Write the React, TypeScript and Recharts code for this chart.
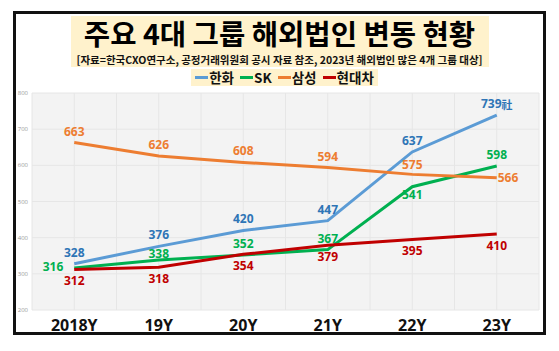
import React from 'react';
import { LineChart, Line, XAxis, YAxis, CartesianGrid, LabelList } from 'recharts';

const categories = ['2018Y', '19Y', '20Y', '21Y', '22Y', '23Y'];
const hanwha = [328, 376, 420, 447, 637, 739];
const sk = [316, 338, 352, 367, 541, 598];
const samsung = [663, 626, 608, 594, 575, 566];
const hyundai = [312, 318, 354, 379, 395, 410];
const seriesNames = ['한화', 'SK', '삼성', '현대차'];
const yTicks = [200, 300, 400, 500, 600, 700, 800];
const titleText = '주요 4대 그룹 해외법인 변동 현황';
const subtitleText = '[자료=한국CXO연구소, 공정거래위원회 공시 자료 참조, 2023년 해외법인 많은 4개 그룹 대상]';
const lastSuffix = '社';

const data = categories.map((c, i) => ({
  x: i,
  cat: c,
  hanwha: hanwha[i],
  sk: sk[i],
  samsung: samsung[i],
  hyundai: hyundai[i],
}));

const xTicks: number[] = [];
for (let i = -1; i <= 11; i++) xTicks.push(i / 2);

const lineColors = ['#5b9bd5', '#00b050', '#ed7d31', '#c00000'];
const labelColors = ['#2e75b6', '#00b050', '#ed7d31', '#c00000'];
const keys = ['hanwha', 'sk', 'samsung', 'hyundai'];

type P = [number, number, 'start' | 'middle' | 'end'];
const T: P = [0, -11.5, 'middle'];
const B: P = [0, 11, 'middle'];
const placements: P[][] = [
  [T, T, T, T, T, T],
  [[-11, -1.5, 'end'], [0, -7, 'middle'], T, T, [0, 8, 'middle'], T],
  [T, T, T, T, [0, -10, 'middle'], [1, -0.5, 'start']],
  [B, B, B, B, B, B],
];

const FONT = "'Open Sans', 'Noto Sans CJK KR', sans-serif";
const KFONT = "'Noto Sans CJK KR', 'Noto Sans', sans-serif";

const makeLabel = (si: number) => (props: any) => {
  const x = props.x ?? props.viewBox?.x;
  const y = props.y ?? props.viewBox?.y;
  const idx = props.index;
  const p = placements[si][idx] || T;
  const suffix = si === 0 && idx === categories.length - 1 ? lastSuffix : '';
  return (
    <text
      x={x + p[0]}
      y={y + p[1]}
      textAnchor={p[2]}
      dominantBaseline="central"
      fill={labelColors[si]}
      fontSize={12}
      fontWeight={700}
      fontFamily={FONT}
    >
      {props.value}
      {suffix && <tspan fontFamily={KFONT} fontSize={11}>{suffix}</tspan>}
    </text>
  );
};

export default function App() {
  return (
    <div style={{ position: 'absolute', left: 0, top: 0, width: 559, height: 351, background: '#fff', overflow: 'hidden' }}>
      <div style={{ position: 'absolute', left: 0, top: 0 }}>
        <LineChart width={559} height={351} data={data} margin={{ top: 93, right: 20, bottom: 11, left: 0 }}>
          <CartesianGrid fill="#f3f3f3" stroke="#e6e6e6" strokeWidth={1} />
          <XAxis
            dataKey="x"
            type="number"
            domain={[-0.5, 5.5]}
            ticks={xTicks}
            interval={0}
            allowDecimals
            axisLine={false}
            tickLine={false}
            height={30}
            tickMargin={4}
            tickFormatter={(v: number) => (Number.isInteger(v) ? categories[v] : '')}
            tick={{ fontSize: 16, fontWeight: 700, fill: '#111', fontFamily: FONT }}
          />
          <YAxis
            type="number"
            domain={[200, 800]}
            ticks={yTicks}
            width={32}
            axisLine={false}
            tickLine={false}
            tickSize={2}
            tick={{ fontSize: 6, fill: '#9a9a9a', fontFamily: FONT }}
          />
          {keys.map((k, si) => (
            <Line
              key={k}
              dataKey={k}
              name={seriesNames[si]}
              type="linear"
              stroke={lineColors[si]}
              strokeWidth={3}
              dot={false}
              isAnimationActive={false}
            >
              <LabelList dataKey={k} content={makeLabel(si)} />
            </Line>
          ))}
        </LineChart>
      </div>
      <div
        style={{
          position: 'absolute',
          left: 13,
          top: 11,
          width: 533,
          height: 324,
          border: '3px solid #111',
          boxSizing: 'border-box',
          pointerEvents: 'none',
        }}
      />
      <div
        style={{
          position: 'absolute',
          left: 71,
          top: 16,
          width: 418,
          height: 51,
          background: '#fff2cc',
        }}
      />
      <div
        style={{
          position: 'absolute',
          left: 0,
          top: 15,
          width: 559,
          textAlign: 'center',
          fontFamily: KFONT,
          fontWeight: 700,
          fontSize: 28.6,
          lineHeight: '36px',
          color: '#000',
          whiteSpace: 'nowrap',
        }}
      >
        {titleText}
      </div>
      <div
        style={{
          position: 'absolute',
          left: 0,
          top: 53,
          width: 559,
          textAlign: 'center',
          fontFamily: KFONT,
          fontWeight: 700,
          fontSize: 10.5,
          lineHeight: '14px',
          color: '#111',
          whiteSpace: 'nowrap',
        }}
      >
        {subtitleText}
      </div>
      <div
        style={{
          position: 'absolute',
          left: 191,
          top: 69,
          width: 187,
          height: 17,
          background: '#fff2cc',
          display: 'flex',
          alignItems: 'center',
          justifyContent: 'center',
          gap: 6,
          fontFamily: KFONT,
          fontWeight: 700,
          fontSize: 13.5,
          color: '#111',
          whiteSpace: 'nowrap',
        }}
      >
        {seriesNames.map((n, i) => (
          <span key={n} style={{ display: 'flex', alignItems: 'center' }}>
            <span style={{ display: 'inline-block', width: 13, height: 3, background: lineColors[i], marginRight: 1 }} />
            <span style={{ lineHeight: '17px' }}>{n}</span>
          </span>
        ))}
      </div>
    </div>
  );
}
